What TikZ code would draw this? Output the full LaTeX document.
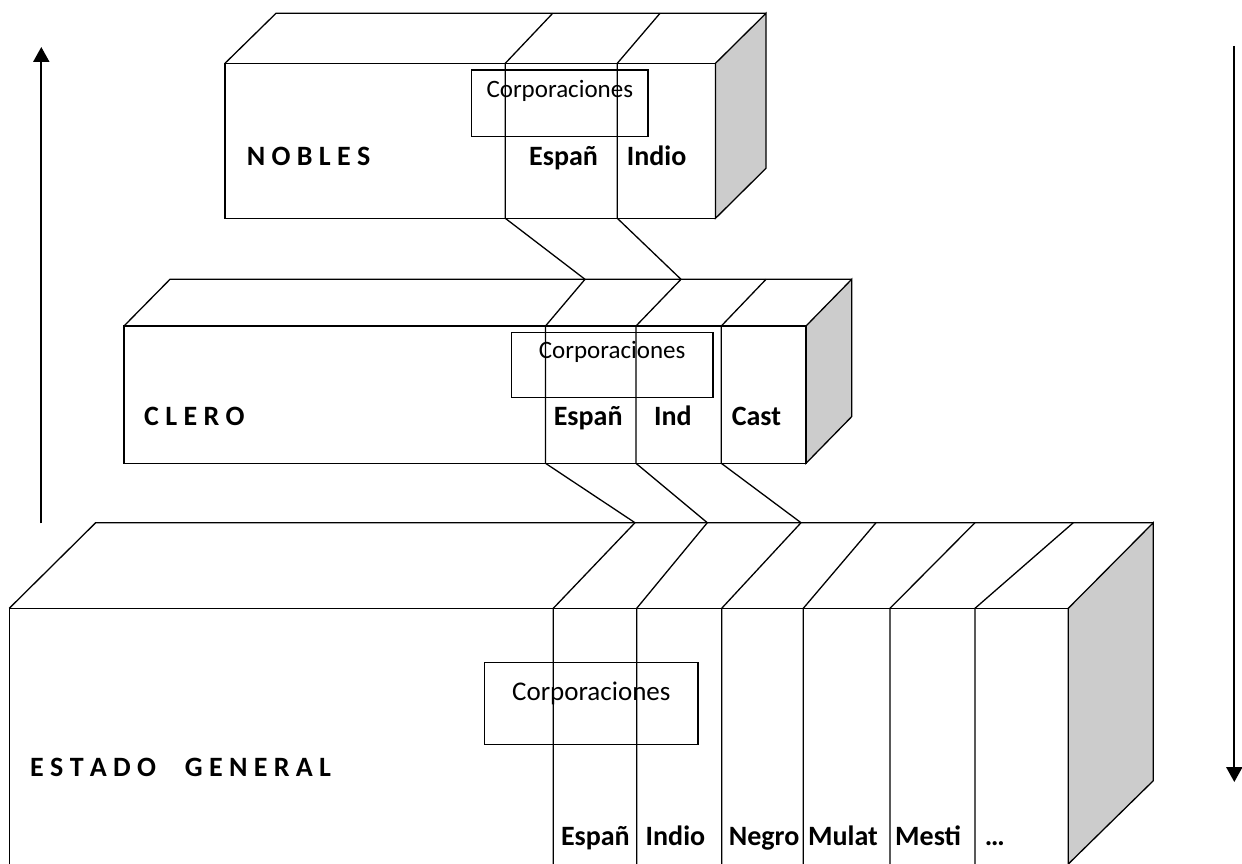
\documentclass[tikz,border=0pt]{standalone}
\usepackage{fontspec}
\setmainfont{Carlito}
\usetikzlibrary{arrows.meta}

\begin{document}
\begin{tikzpicture}[
                x=1pt, y=-1pt,
                boxline/.style={line width=1.3pt, draw=black},
                sideface/.style={line width=1.3pt, draw=black, fill=black!20},
                rank/.style={anchor=base west, inner sep=0pt, font=\fontsize{28}{30}\selectfont\bfseries},
                casta/.style={anchor=base west, inner sep=0pt, font=\fontsize{28}{30}\selectfont\bfseries},
                corp/.style={draw, line width=1.3pt, anchor=north west, inner sep=0pt},
                bigarrow/.style={line width=2.2pt, -{Triangle[length=15pt, width=16pt]}},
            ]
                \useasboundingbox (0,0) rectangle (1242,864);

                % Draw the NOBLES block
                \filldraw[sideface] (715.5,63.3) -- (766,13.3) -- (766,168.3) -- (715.5,218.3) -- cycle;
                \draw[boxline] (225,63.3) rectangle (715.5,218.3);
                \draw[boxline] (225,63.3) -- (276,13.3) -- (766,13.3);
                \foreach \f / \b [count=\i] in {505.3/552.7, 617.3/660}
                {
                    \coordinate (N-top-\i) at (\b,13.3);
                    \coordinate (N-bot-\i) at (\f,218.3);
                    \draw[boxline] (N-top-\i) -- (\f,63.3) -- (N-bot-\i);
                }

                % Draw the CLERO block
                \filldraw[sideface] (806,326) -- (851.7,279.3) -- (851.7,416.6) -- (806,463.3) -- cycle;
                \draw[boxline] (124,326) rectangle (806,463.3);
                \draw[boxline] (124,326) -- (170,279.3) -- (851.7,279.3);
                \foreach \f / \b [count=\i] in {545.5/585, 636/681, 721.3/766}
                {
                    \coordinate (C-top-\i) at (\b,279.3);
                    \coordinate (C-bot-\i) at (\f,463.3);
                    \draw[boxline] (C-top-\i) -- (\f,326) -- (C-bot-\i);
                }

                % Draw the ESTADO GENERAL block
                \filldraw[sideface] (1068.3,608.3) -- (1153.3,522.7) -- (1153.3,780.7) -- (1068.3,864) -- cycle;
                \draw[boxline] (9.3,864) -- (9.3,608.3) -- (1068.3,608.3) -- (1068.3,864);
                \draw[boxline] (9.3,608.3) -- (95.7,522.7) -- (1153.3,522.7);
                \foreach \f / \b [count=\i] in {553.3/635, 636.7/707.3, 721.7/801, 803.3/876, 890/975, 975/1073.3}
                {
                    \coordinate (E-top-\i) at (\b,522.7);
                    \coordinate (E-bot-\i) at (\f,864);
                    \draw[boxline] (E-top-\i) -- (\f,608.3) -- (E-bot-\i);
                }

                % Connect the columns of one block with the next one
                \foreach \i in {1,2}
                    \draw[boxline] (N-bot-\i) -- (C-top-\i);
                \foreach \i in {1,2,3}
                    \draw[boxline] (C-bot-\i) -- (E-top-\i);

                % Corporaciones boxes
                \node[corp, minimum width=176.3pt, text height=27.7pt, text depth=39pt,
                      font=\fontsize{25}{27}\selectfont] (corp-N) at (471,69.3) {Corporaciones};
                \node[corp, minimum width=201.9pt, text height=26.6pt, text depth=38.4pt,
                      font=\fontsize{25}{27}\selectfont] (corp-C) at (510.5,331.7) {Corporaciones};
                \node[corp, minimum width=213.3pt, text height=38.3pt, text depth=44pt,
                      font=\fontsize{27}{29}\selectfont] (corp-E) at (484,661.7) {Corporaciones};

                % Labels
                \node[rank] (nobles) at (246.7,165) {N O B L E S};
                \node[casta] (N-esp) at (529,165) {Españ};
                \node[casta] (N-ind) at (626.7,165) {Indio};

                \node[rank] (clero) at (144,425) {C L E R O};
                \node[casta] (C-esp) at (553.6,425) {Españ};
                \node[casta] (C-ind) at (654,425) {Ind};
                \node[casta] (C-cast) at (731.6,425) {Cast};

                \node[rank] (estado) at (30,776.7) {E S T A D O\hspace{0.8em} G E N E R A L};
                \foreach \x / \t [count=\i] in {560.8/Españ, 645.5/Indio, 728.7/Negro, 808/Mulat, 895/Mesti, 984.6/\dots}
                    \node[casta] (E-lab-\i) at (\x,845) {\t};

                % Arrows at both sides
                \coordinate (up-start) at (41.3,523.3);
                \coordinate (up-end) at (41.3,47);
                \coordinate (down-start) at (1234.3,46);
                \coordinate (down-end) at (1234.3,782);
                \draw[bigarrow] (up-start) -- (up-end);
                \draw[bigarrow] (down-start) -- (down-end);
            \end{tikzpicture}
\end{document}
